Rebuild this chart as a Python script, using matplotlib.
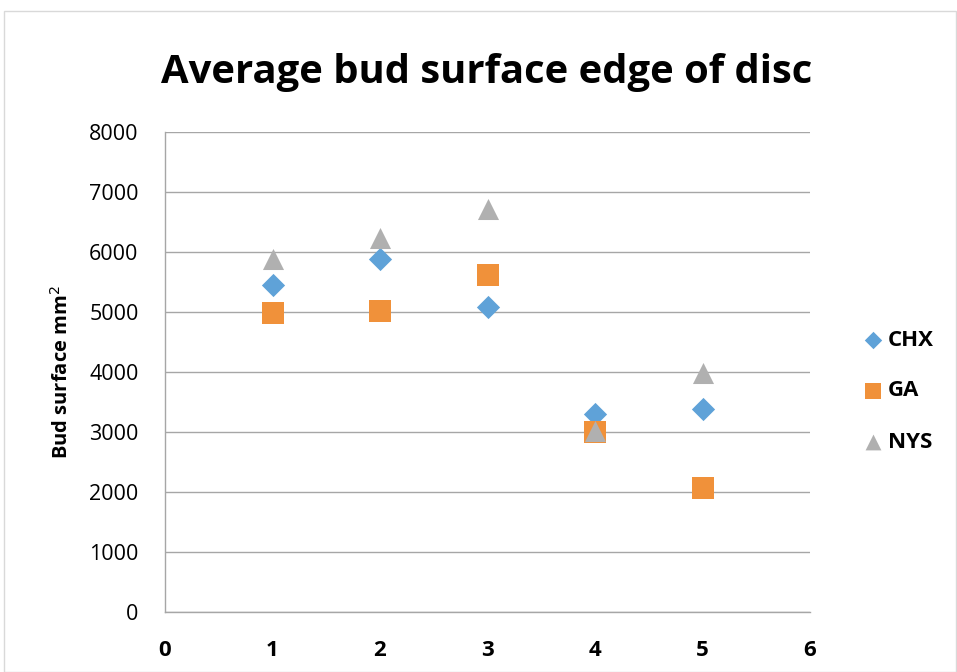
import matplotlib
matplotlib.use("Agg")
import matplotlib.pyplot as plt
from matplotlib.patches import Rectangle

plt.rcParams['font.family'] = ['Open Sans', 'DejaVu Sans']

x_vals = [1, 2, 3, 4, 5]
chx = [5450, 5880, 5080, 3300, 3380]
ga = [4980, 5020, 5620, 3000, 2070]
nys = [5880, 6230, 6710, 3020, 3980]
series_names = ["CHX", "GA", "NYS"]
x_ticks = [0, 1, 2, 3, 4, 5, 6]
y_ticks = [0, 1000, 2000, 3000, 4000, 5000, 6000, 7000, 8000]

fig = plt.figure(figsize=(9.57, 6.72), dpi=100)
fig.patches.append(Rectangle((4/957, 0), 1 - 5/957, 1 - 11/672, transform=fig.transFigure,
                             fill=False, edgecolor='#d9d9d9', linewidth=1))
ax = fig.add_axes([165/957, 1 - 612/672, (810 - 165)/957, (612 - 132)/672])

ax.scatter(x_vals, chx, marker='D', s=140, color='#5fa2d8', label=series_names[0], zorder=3, linewidths=0)
ax.scatter(x_vals, ga, marker='s', s=240, color='#f0913a', label=series_names[1], zorder=3, linewidths=0)
ax.scatter(x_vals, nys, marker='^', s=230, color='#b0b0b0', label=series_names[2], zorder=3, linewidths=0)

ax.set_xlim(0, 6)
ax.set_ylim(0, 8000)
ax.set_xticks(x_ticks)
ax.set_yticks(y_ticks)
ax.set_xticklabels([str(t) for t in x_ticks], fontweight='bold', fontsize=16)
ax.set_yticklabels([str(t) for t in y_ticks], fontsize=15.5)
ax.tick_params(axis='both', length=0, colors='black')
ax.tick_params(axis='x', pad=20)
ax.tick_params(axis='y', pad=19)
ax.grid(axis='y', color='#a6a6a6', linewidth=1)
ax.set_axisbelow(True)
for s in ['top', 'right']:
    ax.spines[s].set_visible(False)
for s in ['left', 'bottom']:
    ax.spines[s].set_color('#a6a6a6')
    ax.spines[s].set_linewidth(1)

ax.set_ylabel('Bud surface mm$^2$', fontsize=14.5, fontweight='bold', labelpad=12)
fig.text(487/957, 1 - 72/672, 'Average bud surface edge of disc', ha='center', va='center',
         fontsize=28.8, fontweight='bold')

leg = fig.legend(loc='center left', bbox_to_anchor=(850/957, 1 - 391/672), bbox_transform=fig.transFigure,
                 frameon=False, fontsize=16, handletextpad=0.0, handlelength=1.3, labelspacing=1.35,
                 borderaxespad=0, markerscale=0.75)
for t in leg.get_texts():
    t.set_fontweight('bold')

fig.savefig('out.png', dpi=100)
